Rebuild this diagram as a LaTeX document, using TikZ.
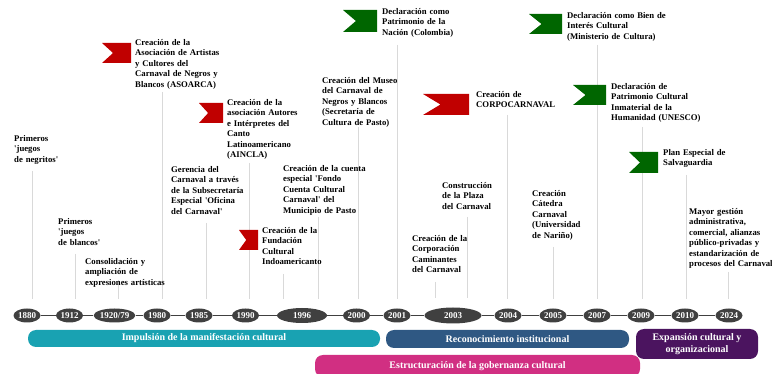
\documentclass[tikz,border=0pt]{standalone}
\usepackage{fontspec}
\setmainfont{Liberation Serif}
\usetikzlibrary{shapes.geometric}
\definecolor{ellgray}{HTML}{404040}
\definecolor{vlgray}{HTML}{D9D9D9}
\definecolor{flagred}{HTML}{C00000}
\definecolor{flaggreen}{HTML}{006600}
\definecolor{barteal}{HTML}{19A2B2}
\definecolor{barblue}{HTML}{2F5883}
\definecolor{barpurple}{HTML}{4B145F}
\definecolor{barpink}{HTML}{D12F82}
\newcommand\sq{\textquotesingle}
\newcommand\drawflag[5]{\fill[#1] (#2,#3) -- (#4,#3) -- (#4,#5) -- (#2,#5) -- ({#2+0.38*(#4-#2)},{(#3+#5)/2}) -- cycle;}
\tikzset{
  evtext/.style={anchor=base west, inner sep=0pt, text width=140pt, align=left,
    font=\fontsize{8.7}{10.5}\selectfont\bfseries},
  yr/.style={ellipse, fill=ellgray, text=white, inner sep=0pt,
    minimum width=27pt, minimum height=14pt, font=\fontsize{9}{9}\selectfont\bfseries},
  tl/.style={draw=ellgray, line width=1pt},
  vl/.style={draw=vlgray, line width=0.8pt, shorten >=9pt},
  bar/.style={rectangle, rounded corners=8pt, inner sep=0pt, text=white,
    font=\fontsize{10}{12}\selectfont\bfseries, align=center}
}
\begin{document}
\begin{tikzpicture}[x=1pt, y=-1pt]
\useasboundingbox (0,0) rectangle (772,374);
\begin{scope}
\clip (0,0) rectangle (772,374);
% year ellipses
\node[yr] (e1880) at (27,315.5) {1880};
\node[yr] (e1912) at (69.5,315.5) {1912};
\node[yr, minimum width=33pt] (e1920) at (114.5,315.5) {1920/79};
\node[yr] (e1980) at (157,315.5) {1980};
\node[yr] (e1985) at (199,315.5) {1985};
\node[yr] (e1990) at (245.5,315.5) {1990};
\node[yr, minimum width=50pt, minimum height=15pt] (e1996) at (302,315.5) {1996};
\node[yr] (e2000) at (356.5,315.5) {2000};
\node[yr] (e2001) at (397,315.5) {2001};
\node[yr, minimum width=57pt, minimum height=16pt] (e2003) at (453,315.5) {2003};
\node[yr] (e2004) at (508,315.5) {2004};
\node[yr] (e2005) at (553,315.5) {2005};
\node[yr] (e2007) at (597,315.5) {2007};
\node[yr] (e2009) at (641,315.5) {2009};
\node[yr] (e2010) at (685,315.5) {2010};
\node[yr] (e2024) at (729,315.5) {2024};
\draw[tl] (e1880) -- (e1912) -- (e1920) -- (e1980) -- (e1985) -- (e1990) -- (e1996) -- (e2000) -- (e2001) -- (e2003) -- (e2004) -- (e2005) -- (e2007) -- (e2009) -- (e2010) -- (e2024);

% connector tops
\coordinate (v1) at (32,171);
\coordinate (v2) at (75,254);
\coordinate (v3) at (118,280);
\coordinate (v4) at (162,92);
\coordinate (v5) at (206,223);
\coordinate (v6) at (249,163);
\coordinate (v7) at (283,274);
\coordinate (v8) at (318,217);
\coordinate (v9) at (358,127);
\coordinate (v10) at (397,45);
\coordinate (v11) at (435,282);
\coordinate (v12) at (467,217);
\coordinate (v13) at (507,115);
\coordinate (v14) at (553,247);
\coordinate (v15) at (597,45);
\coordinate (v16) at (642,127);
\coordinate (v17) at (686,175);
\coordinate (v18) at (728,272);
\draw[vl] (v1) -- (v1 |- e1880.north);
\draw[vl] (v2) -- (v2 |- e1912.north);
\draw[vl] (v3) -- (v3 |- e1920.north);
\draw[vl] (v4) -- (v4 |- e1980.north);
\draw[vl] (v5) -- (v5 |- e1985.north);
\draw[vl] (v6) -- (v6 |- e1990.north);
\draw[vl] (v7) -- (v7 |- e1996.north);
\draw[vl] (v8) -- (v8 |- e1996.north);
\draw[vl] (v9) -- (v9 |- e2000.north);
\draw[vl] (v10) -- (v10 |- e2001.north);
\draw[vl] (v11) -- (v11 |- e2003.north);
\draw[vl] (v12) -- (v12 |- e2003.north);
\draw[vl] (v13) -- (v13 |- e2004.north);
\draw[vl] (v14) -- (v14 |- e2005.north);
\draw[vl] (v15) -- (v15 |- e2007.north);
\draw[vl] (v16) -- (v16 |- e2009.north);
\draw[vl] (v17) -- (v17 |- e2010.north);
\draw[vl] (v18) -- (v18 |- e2024.north);

% flags
\drawflag{flagred}{102}{43}{131}{63}
\drawflag{flagred}{199}{103}{223}{123}
\drawflag{flagred}{239}{230}{258}{250}
\drawflag{flaggreen}{343}{10}{377}{32}
\drawflag{flagred}{423}{94}{469}{115}
\drawflag{flaggreen}{529}{14}{562}{34}
\drawflag{flaggreen}{573}{85}{606}{105}
\drawflag{flaggreen}{629}{152}{658}{173}

% event texts
\node[evtext] (t1) at (14,141.5) {Primeros\\\sq juegos\\de negritos\sq};
\node[evtext] (t2) at (135,45.5) {Creación de la\\Asociación de Artistas\\y Cultores del\\Carnaval de Negros y\\Blancos (ASOARCA)};
\node[evtext] (t3) at (227,105.5) {Creación de la\\asociación Autores\\e Intérpretes del\\Canto\\Latinoamericano\\(AINCLA)};
\node[evtext] (t4) at (171,172.5) {Gerencia del\\Carnaval a través\\de la Subsecretaría\\Especial \sq Oficina\\del Carnaval\sq};
\node[evtext] (t5) at (58,224.5) {Primeros\\\sq juegos\\de blancos\sq};
\node[evtext] (t6) at (85,264.5) {Consolidación y\\ampliación de\\expresiones artísticas};
\node[evtext] (t7) at (283,171.5) {Creación de la cuenta\\especial \sq Fondo\\Cuenta Cultural\\Carnaval\sq{} del\\Municipio de Pasto};
\node[evtext] (t8) at (262,233.5) {Creación de la\\Fundación\\Cultural\\Indoamericanto};
\node[evtext] (t9) at (322,83.5) {Creación del Museo\\del Carnaval de\\Negros y Blancos\\(Secretaría de\\Cultura de Pasto)};
\node[evtext] (t10) at (382,14.5) {Declaración como\\Patrimonio de la\\Nación (Colombia)};
\node[evtext] (t11) at (476,97.5) {Creación de\\CORPOCARNAVAL};
\node[evtext] (t12) at (442,188.5) {Construcción\\de la Plaza\\del Carnaval};
\node[evtext] (t13) at (412,241.5) {Creación de la\\Corporación\\Caminantes\\del Carnaval};
\node[evtext] (t14) at (532,196.5) {Creación\\Cátedra\\Carnaval\\(Universidad\\de Nariño)};
\node[evtext] (t15) at (567,18.5) {Declaración como Bien de\\Interés Cultural\\(Ministerio de Cultura)};
\node[evtext] (t16) at (611,89.5) {Declaración de\\Patrimonio Cultural\\Inmaterial de la\\Humanidad (UNESCO)};
\node[evtext] (t17) at (663,155.5) {Plan Especial de\\Salvaguardia};
\node[evtext] (t18) at (689,214.5) {Mayor gestión\\administrativa,\\comercial, alianzas\\público-privadas y\\estandarización de\\procesos del Carnaval};

% phase bars
\node[bar, fill=barteal, minimum width=352pt, minimum height=17pt] (b1) at (204,338.5) {Impulsión de la manifestación cultural};
\node[bar, fill=barblue, minimum width=243pt, minimum height=18pt] (b2) at (507.5,339) {Reconocimiento institucional};
\node[bar, fill=barpurple, minimum width=122pt, minimum height=30pt] (b3) at (697,344) {Expansión cultural y\\organizacional};
\node[bar, fill=barpink, minimum width=325pt, minimum height=22pt] (b4) at (477.5,366) {Estructuración de la gobernanza cultural};
\end{scope}
\end{tikzpicture}
\end{document}
